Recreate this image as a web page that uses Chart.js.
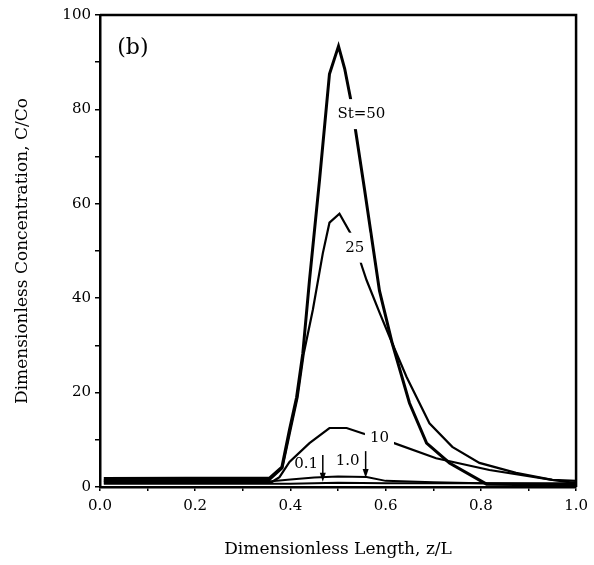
<!DOCTYPE html>
<html>
<head>
<meta charset="utf-8">
<script src="https://cdn.jsdelivr.net/npm/chart.js@4.4.0/dist/chart.umd.min.js"></script>
<style>
  html, body { margin: 0; padding: 0; background: #fff; }
</style>
</head>
<body>
<canvas id="chart" width="594" height="565"></canvas>
<script>
// St = 50
const z50 = [0.008, 0.356, 0.382, 0.398, 0.413, 0.426, 0.440, 0.461, 0.482, 0.501, 0.514, 0.528, 0.556, 0.587, 0.614, 0.650, 0.686, 0.734, 0.812, 1.0];
const c50 = [1.8, 1.9, 4.2, 12.1, 19.0, 28.3, 43.8, 64.9, 87.5, 93.4, 88.6, 81.4, 62.8, 41.6, 30.4, 17.8, 9.3, 5.1, 0.6, 0.4];
// St = 25
const z25 = [0.008, 0.356, 0.383, 0.400, 0.415, 0.428, 0.447, 0.468, 0.482, 0.503, 0.530, 0.551, 0.560, 0.587, 0.614, 0.644, 0.692, 0.740, 0.797, 0.874, 0.950, 1.0];
const c25 = [1.4, 1.5, 4.0, 12.0, 19.0, 28.3, 37.5, 49.5, 56.0, 57.9, 53.1, 46.5, 43.8, 37.0, 30.4, 23.3, 13.5, 8.5, 5.1, 3.0, 1.5, 0.8];
// St = 10
const z10 = [0.008, 0.360, 0.377, 0.398, 0.440, 0.482, 0.518, 0.551, 0.612, 0.706, 0.818, 0.950, 1.0];
const c10 = [1.0, 1.0, 2.1, 5.3, 9.3, 12.5, 12.5, 11.4, 9.5, 6.1, 3.6, 1.5, 1.3];
// St = 1.0
const z1 = [0.008, 0.36, 0.40, 0.45, 0.50, 0.56, 0.60, 0.70, 0.80, 0.90, 1.0];
const c1 = [1.2, 1.2, 1.6, 2.0, 2.2, 2.1, 1.3, 1.0, 0.8, 0.7, 0.6];
// St = 0.1
const z01 = [0.008, 0.40, 0.50, 0.60, 1.0];
const c01 = [0.7, 0.7, 0.9, 0.8, 0.8];

// curve labels and arrows, in data units
const curveLabels = [
  { text: "St=50", x: 0.549, y: 79, gap: true },
  { text: "25", x: 0.535, y: 50.7, gap: true },
  { text: "10", x: 0.587, y: 10.4, gap: true },
  { text: "1.0", x: 0.520, y: 5.5, gap: false },
  { text: "0.1", x: 0.433, y: 4.9, gap: false },
  { text: "(b)", x: 0.069, y: 93, gap: false, big: true }
];
const arrows = [
  { x: 0.468, from: 6.8, to: 1.1 },
  { x: 0.558, from: 7.6, to: 1.9 }
];

const FONT = "'DejaVu Serif', serif";

function pts(xs, ys) {
  return xs.map((x, i) => ({ x: x, y: ys[i] }));
}

const series = [
  { label: "St=50", data: pts(z50, c50), w: 3 },
  { label: "St=25", data: pts(z25, c25), w: 2.2 },
  { label: "St=10", data: pts(z10, c10), w: 2.2 },
  { label: "St=1.0", data: pts(z1, c1), w: 2 },
  { label: "St=0.1", data: pts(z01, c01), w: 2 }
];

const annotate = {
  id: "annotate",
  afterDatasetsDraw(chart) {
    const ctx = chart.ctx;
    const xs = chart.scales.x, ys = chart.scales.y;
    const a = chart.chartArea;
    ctx.save();
    // frame top / right
    ctx.strokeStyle = "#000";
    ctx.lineWidth = 2.5;
    ctx.beginPath();
    ctx.moveTo(a.left, a.top);
    ctx.lineTo(a.right, a.top);
    ctx.lineTo(a.right, a.bottom);
    ctx.stroke();

    ctx.textAlign = "center";
    ctx.textBaseline = "middle";
    curveLabels.forEach(l => {
      ctx.font = (l.big ? "22px " : "15px ") + FONT;
      const px = xs.getPixelForValue(l.x), py = ys.getPixelForValue(l.y);
      if (l.gap) {
        const w = ctx.measureText(l.text).width;
        ctx.fillStyle = "#fff";
        ctx.fillRect(px - w / 2 - 5, py - 15, w + 10, 30);
      }
      ctx.fillStyle = "#000";
      ctx.fillText(l.text, px, py);
    });

    arrows.forEach(ar => {
      const px = xs.getPixelForValue(ar.x);
      const y0 = ys.getPixelForValue(ar.from), y1 = ys.getPixelForValue(ar.to);
      ctx.lineWidth = 1.5;
      ctx.beginPath();
      ctx.moveTo(px, y0);
      ctx.lineTo(px, y1 - 6);
      ctx.stroke();
      ctx.beginPath();
      ctx.moveTo(px - 3, y1 - 9);
      ctx.lineTo(px + 3, y1 - 9);
      ctx.lineTo(px, y1);
      ctx.closePath();
      ctx.fill();
    });
    ctx.restore();
  }
};

new Chart(document.getElementById("chart"), {
  type: "line",
  data: {
    datasets: series.map(s => ({
      label: s.label,
      data: s.data,
      borderColor: "#000",
      borderWidth: s.w,
      pointRadius: 0,
      fill: false,
      tension: 0
    }))
  },
  options: {
    responsive: false,
    animation: false,
    layout: { padding: { top: 15, right: 17, left: 0, bottom: 0 } },
    plugins: { legend: { display: false }, tooltip: { enabled: false } },
    scales: {
      x: {
        type: "linear",
        min: 0,
        max: 1,
        afterFit: s => { s.height = 78; },
        border: { display: true, color: "#000", width: 2.5 },
        grid: { drawOnChartArea: false, drawTicks: true, tickLength: 4, color: "#000", lineWidth: 1.5 },
        ticks: {
          stepSize: 0.1,
          autoSkip: false,
          maxRotation: 0,
          padding: 6,
          color: "#000",
          font: { family: FONT, size: 15 },
          callback: v => (Math.round(v * 10) % 2 === 0 ? v.toFixed(1) : "")
        },
        title: {
          display: true,
          text: "Dimensionless Length, z/L",
          color: "#000",
          font: { family: FONT, size: 17 },
          padding: { top: 0, bottom: 5 }
        }
      },
      y: {
        min: 0,
        max: 100,
        afterFit: s => { s.width = 100; },
        border: { display: true, color: "#000", width: 2.5 },
        grid: { drawOnChartArea: false, drawTicks: true, tickLength: 5, color: "#000", lineWidth: 1.5 },
        ticks: {
          stepSize: 10,
          autoSkip: false,
          padding: 4,
          color: "#000",
          font: { family: FONT, size: 15 },
          callback: v => (v % 20 === 0 ? v : "")
        },
        title: {
          display: true,
          text: "Dimensionless Concentration, C/Co",
          color: "#000",
          font: { family: FONT, size: 17 },
          padding: { top: 12, bottom: 0 }
        }
      }
    }
  },
  plugins: [annotate]
});
</script>
</body>
</html>
